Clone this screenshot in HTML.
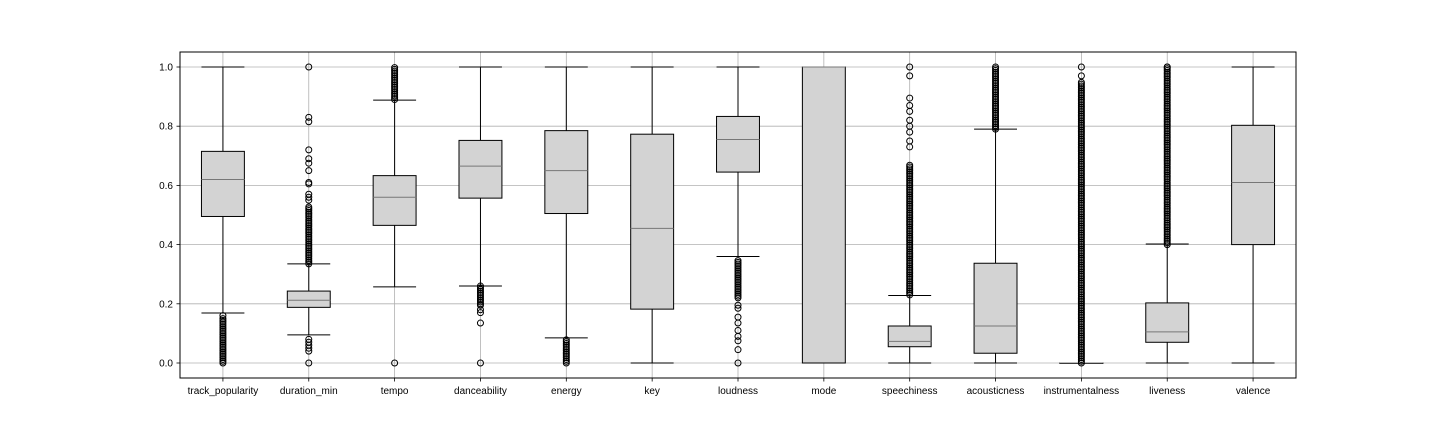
<!DOCTYPE html>
<html><head><meta charset="utf-8"><style>
body{margin:0;background:#fff;}
svg{display:block;font-family:"Liberation Sans","DejaVu Sans",sans-serif;}
</style></head><body>
<svg id="chart" width="1440" height="432"></svg>
<script>
const categories=["track_popularity","duration_min","tempo","danceability","energy","key","loudness","mode","speechiness","acousticness","instrumentalness","liveness","valence"];
const whiskerLow=[0.169,0.095,0.257,0.26,0.085,0,0.36,0,0,0,0,0,0];
const q1=[0.495,0.188,0.465,0.557,0.505,0.182,0.645,0,0.055,0.033,0,0.07,0.4];
const medians=[0.62,0.212,0.56,0.665,0.65,0.455,0.755,1,0.073,0.125,0,0.105,0.61];
const q3=[0.715,0.243,0.633,0.752,0.785,0.773,0.833,1,0.125,0.337,0,0.203,0.803];
const whiskerHigh=[1,0.335,0.888,1,1,1,1,1,0.228,0.79,0,0.402,1];
const outlierPoints=[[0.16],[1,0.83,0.815,0.72,0.69,0.675,0.65,0.61,0.605,0.57,0.56,0.55,0,0.04,0.05,0.06,0.07,0.08],[0],[0,0.135,0.17,0.18,0.195],[],[],[0,0.045,0.075,0.09,0.11,0.135,0.155,0.185,0.195],[],[1,0.97,0.895,0.87,0.85,0.82,0.8,0.78,0.75,0.73],[],[1,0.97],[1],[]];
const outlierBandLo=[0,0.335,0.89,0.2,0,null,0.22,null,0.23,0.79,0,0.4,null];
const outlierBandHi=[0.155,0.53,1,0.26,0.08,null,0.35,null,0.67,1,0.95,1,null];
const yTicks=[0,0.2,0.4,0.6,0.8,1.0];

const svg=document.getElementById('chart');
const NS='http://www.w3.org/2000/svg';
const L=180,R=1296,T=52,B=378;
const yS=v=>363-v*296;
const xS=i=>L+(i+0.5)*(R-L)/categories.length;
const bw=0.5*(R-L)/categories.length;
function mk(tag,a,parent){const e=document.createElementNS(NS,tag);for(const k in a)e.setAttribute(k,a[k]);(parent||svg).appendChild(e);return e;}
// grid
yTicks.forEach(v=>{
 const g=mk('line',{x1:L,x2:R,y1:yS(v),y2:yS(v),stroke:'#b0b0b0','stroke-width':0.8});
 
 
 mk('line',{x1:L-3.5,x2:L,y1:yS(v),y2:yS(v),stroke:'#000','stroke-width':0.8});
 const t=mk('text',{x:L-7,y:yS(v)+3.5,'text-anchor':'end','font-size':10});
 t.textContent=v.toFixed(1);
 
 
});
categories.forEach((c,i)=>{
 const x=xS(i);
 const g=mk('line',{x1:x,x2:x,y1:T,y2:B,stroke:'#b0b0b0','stroke-width':0.8});
 
 
});
categories.forEach((c,i)=>{
 const x=xS(i);
 const grp=mk('g',{});
 
 
 mk('line',{x1:x,x2:x,y1:yS(q1[i]),y2:yS(whiskerLow[i]),stroke:'#000','stroke-width':1},grp);
 mk('line',{x1:x,x2:x,y1:yS(q3[i]),y2:yS(whiskerHigh[i]),stroke:'#000','stroke-width':1},grp);
 mk('line',{x1:x-bw/2,x2:x+bw/2,y1:yS(whiskerLow[i]),y2:yS(whiskerLow[i]),stroke:'#000','stroke-width':1},grp);
 mk('line',{x1:x-bw/2,x2:x+bw/2,y1:yS(whiskerHigh[i]),y2:yS(whiskerHigh[i]),stroke:'#000','stroke-width':1},grp);
 mk('rect',{x:x-bw/2,y:yS(q3[i]),width:bw,height:Math.max(0.5,yS(q1[i])-yS(q3[i])),fill:'#d3d3d3',stroke:'#000','stroke-width':1},grp);
 mk('line',{x1:x-bw/2,x2:x+bw/2,y1:yS(medians[i]),y2:yS(medians[i]),stroke:'#777','stroke-width':1},grp);
 const pts=outlierPoints[i].slice();
 if(outlierBandLo[i]!==null){for(let v=outlierBandLo[i];v<=outlierBandHi[i]+1e-9;v+=0.006)pts.push(v);}
 pts.forEach(v=>{
  const o=mk('circle',{cx:x,cy:yS(v),r:3,fill:'none',stroke:'#000','stroke-width':1},grp);
  
  
 });
 mk('line',{x1:x,x2:x,y1:B,y2:B+3.5,stroke:'#000','stroke-width':0.8});
 const t=mk('text',{x:x,y:B+16,'text-anchor':'middle','font-size':10});
 t.textContent=c;
 
 
});
const f=mk('rect',{x:L,y:T,width:R-L,height:B-T,fill:'none',stroke:'#000','stroke-width':1});


</script>
</body></html>
